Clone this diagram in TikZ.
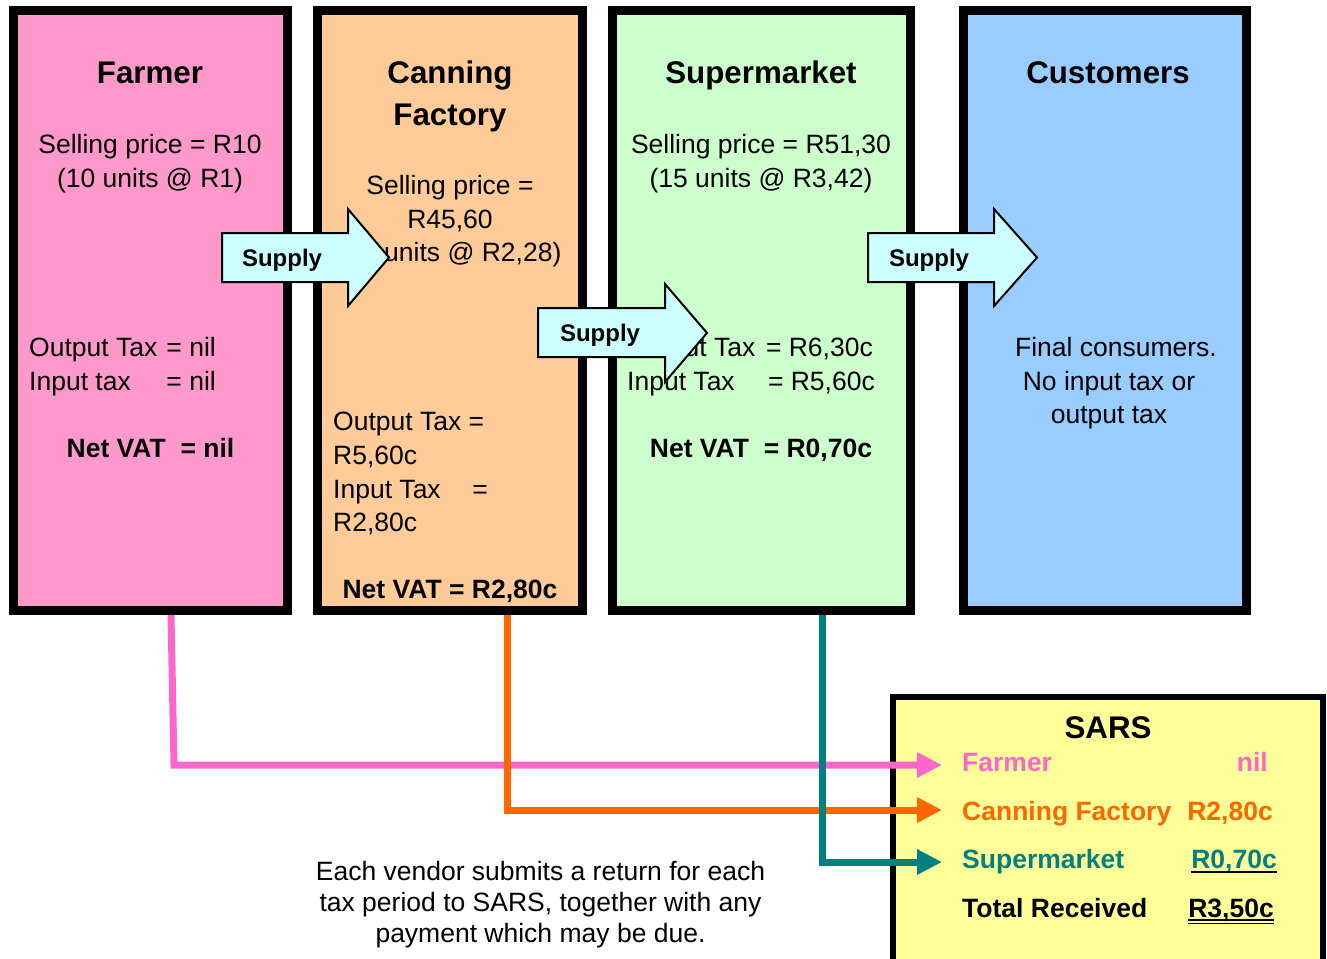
\documentclass[tikz,border=0pt]{standalone}
\usepackage{fontspec}
\setmainfont{Liberation Sans}
\usetikzlibrary{arrows.meta}
\definecolor{farmfill}{HTML}{FF99CC}
\definecolor{canfill}{HTML}{FFCC99}
\definecolor{supfill}{HTML}{CCFFCC}
\definecolor{cusfill}{HTML}{99CCFF}
\definecolor{sarsfill}{HTML}{FFFF99}
\definecolor{arrowfill}{HTML}{CCFFFF}
\definecolor{pinkline}{HTML}{FF66CC}
\definecolor{orangeline}{HTML}{FF6600}
\definecolor{tealline}{HTML}{008080}
\tikzset{
  stagebox/.style={draw=black, line width=9pt, minimum height=600pt},
  sarsbox/.style={draw=black, line width=6pt, fill=sarsfill},
  body/.style={inner sep=0pt, anchor=base, font=\fontsize{26.5}{32}\selectfont},
  bodyL/.style={body, anchor=base west},
  bodyR/.style={body, anchor=base east},
  boldbody/.style={body, font=\fontsize{26.5}{32}\selectfont\bfseries},
  boldL/.style={boldbody, anchor=base west},
  boldR/.style={boldbody, anchor=base east},
  title/.style={inner sep=0pt, anchor=base, font=\fontsize{31.3}{36}\selectfont\bfseries},
  supplytext/.style={inner sep=0pt, anchor=base, font=\fontsize{24}{28}\selectfont\bfseries},
  supplyarrow/.style={draw=black, line width=2pt, fill=arrowfill, line join=miter},
  taxline/.style={line width=7pt, -{Triangle[length=25pt,width=24pt]}},
}
\begin{document}
\begin{tikzpicture}[x=1pt,y=-1pt]
\useasboundingbox (0,0) rectangle (1327,958);

% stage boxes
\node[stagebox, fill=farmfill, minimum width=274pt] (farmer) at (150.5,310.5) {};
\node[stagebox, fill=canfill, minimum width=265.5pt] (canning) at (449.75,310.5) {};
\node[stagebox, fill=supfill, minimum width=298pt] (super) at (761.5,310.5) {};
\node[stagebox, fill=cusfill, minimum width=283pt] (cust) at (1104.5,310.5) {};

% SARS box
\node[sarsbox, minimum width=430pt, minimum height=268pt] (sars) at (1108,831) {};

% Farmer text
\node[title] (ft) at (150,84) {Farmer};
\node[body] (f1) at (150,153.5) {Selling price = R10};
\node[body] (f2) at (150,187.5) {(10 units @ R1)};
\node[bodyL] (f3) at (29,356.5) {Output Tax};
\node[bodyR] (f3b) at (216,356.5) {= nil};
\node[bodyL] (f4) at (29,390.5) {Input tax};
\node[bodyR] (f4b) at (216,390.5) {= nil};
\node[boldbody] (f5) at (150.5,457.5) {Net VAT\ \ = nil};

% Canning text
\node[title] (ct1) at (450,84) {Canning};
\node[title] (ct2) at (450,125) {Factory};
\node[body] (c1) at (450,194.5) {Selling price =};
\node[body] (c2) at (450,228.5) {R45,60};
\node[body] (c3) at (450,261.5) {(20 units @ R2,28)};
\node[bodyL] (c4) at (333,430.5) {Output Tax =};
\node[bodyL] (c5) at (333,464.5) {R5,60c};
\node[bodyL] (c6) at (333,498.5) {Input Tax};
\node[bodyR] (c6b) at (488,498.5) {=};
\node[bodyL] (c7) at (333,531.5) {R2,80c};
\node[boldbody] (c8) at (450,598.5) {Net VAT = R2,80c};

% Supermarket text
\node[title] (st) at (761,84) {Supermarket};
\node[body] (s1) at (761,153.5) {Selling price = R51,30};
\node[body] (s2) at (761,187.5) {(15 units @ R3,42)};
\node[bodyL] (s3) at (627,356.5) {Output Tax};
\node[bodyR] (s3b) at (873,356.5) {= R6,30c};
\node[bodyL] (s4) at (627,390.5) {Input Tax};
\node[bodyR] (s4b) at (875,390.5) {= R5,60c};
\node[boldbody] (s5) at (761,457.5) {Net VAT\ \ = R0,70c};

% Customers text
\node[title] (cut) at (1108,84) {Customers};
\node[body] (u1) at (1116,356.5) {Final consumers.};
\node[body] (u2) at (1109,390.5) {No input tax or};
\node[body] (u3) at (1109,423.5) {output tax};

% Supply arrows
\draw[supplyarrow] (222,233) -- (348,233) -- (348,209) -- (389,257.5) -- (348,306) -- (348,282) -- (222,282) -- cycle;
\node[supplytext] (sup1) at (282,266.6) {Supply};
\draw[supplyarrow] (538,308) -- (665,308) -- (665,284) -- (707,333) -- (665,382) -- (665,357) -- (538,357) -- cycle;
\node[supplytext] (sup2) at (600,341.6) {Supply};
\draw[supplyarrow] (868,233) -- (994,233) -- (994,209) -- (1037,257.5) -- (994,306) -- (994,282) -- (868,282) -- cycle;
\node[supplytext] (sup3) at (929,266.6) {Supply};

% SARS contents
\node[title] (sarst) at (1108,738) {SARS};
\node[boldL, text=pinkline] (sf) at (962,771) {Farmer};
\node[boldR, text=pinkline] (sfv) at (1268,771) {nil};
\node[boldL, text=orangeline] (sc) at (962,820) {Canning Factory};
\node[boldR, text=orangeline] (scv) at (1273,820) {R2,80c};
\node[boldL, text=tealline] (ss) at (962,868.3) {Supermarket};
\node[boldR, text=tealline] (ssv) at (1277,868.3) {R0,70c};
\node[boldL] (stot) at (962,917.8) {Total Received};
\node[boldR] (stotv) at (1274,917.8) {R3,50c};
\draw[line width=1.8pt] ([yshift=-3.5pt]ssv.base west) -- ([yshift=-3.5pt]ssv.base east);
\draw[line width=1.8pt] ([yshift=-1.8pt]stotv.base west) -- ([yshift=-1.8pt]stotv.base east);
\draw[line width=1.8pt] ([yshift=-5.6pt]stotv.base west) -- ([yshift=-5.6pt]stotv.base east);

% tax flows
\coordinate (inF) at (942,765);
\coordinate (inC) at (942,810);
\coordinate (inS) at (942,862);
\coordinate (bendF) at (174,765);
\draw[taxline, draw=pinkline] ([xshift=20.5pt]farmer.south) -- (bendF) -- (inF);
\draw[taxline, draw=orangeline] ([xshift=58pt]canning.south) |- (inC);
\draw[taxline, draw=tealline] ([xshift=60.5pt]super.south) |- (inS);

% note
\node[body] (n1) at (540.5,880.5) {Each vendor submits a return for each};
\node[body] (n2) at (540.5,911.5) {tax period to SARS, together with any};
\node[body] (n3) at (540.5,942.5) {payment which may be due.};
\end{tikzpicture}
\end{document}
